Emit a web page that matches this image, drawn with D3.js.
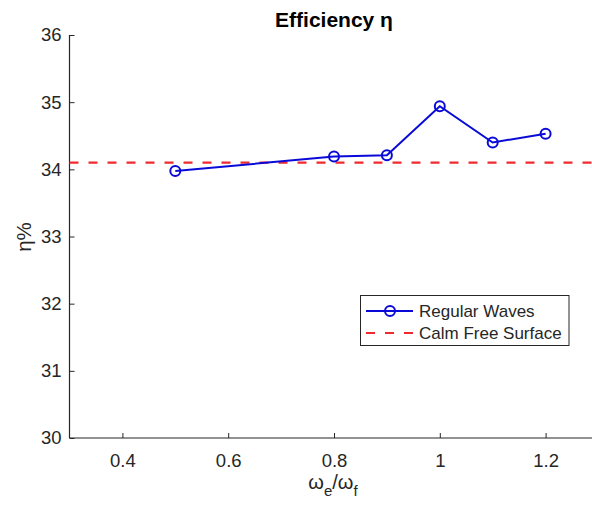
<!DOCTYPE html>
<html>
<head>
<meta charset="utf-8">
<script src="https://cdn.jsdelivr.net/npm/d3@7"></script>
<style>
  html, body { margin: 0; padding: 0; background: #fff; }
  svg { display: block; font-family: "Liberation Sans", Arial, Helvetica, sans-serif; }
</style>
</head>
<body>
<svg id="chart" width="592" height="509"></svg>
<script>
// Efficiency under regular waves vs. frequency ratio
const freqRatio = [0.5, 0.8, 0.9, 1.0, 1.1, 1.2];
const efficiency = [33.975, 34.19, 34.21, 34.94, 34.40, 34.53];
const calmEfficiency = 34.10;
const xTicks = [0.4, 0.6, 0.8, 1.0, 1.2];
const yTicks = [30, 31, 32, 33, 34, 35, 36];
const seriesNames = ["Regular Waves", "Calm Free Surface"];

const svg = d3.select("#chart");
const axisColor = "#262626";
const blue = "#0a0ad8";
const red = "#ee2a2e";

const plotLeft = 69.5, plotRight = 598.5, plotTop = 35, plotBottom = 438;
const x = d3.scaleLinear().domain([0.3, 1.3]).range([plotLeft, plotRight]);
const y = d3.scaleLinear().domain([30, 36]).range([plotBottom, plotTop]);

// Axes (ticks inside, no surrounding box)
const xAxis = d3.axisBottom(x).tickValues(xTicks).tickSize(-5).tickPadding(16)
  .tickFormat(d => String(+d.toFixed(1)));
const yAxis = d3.axisLeft(y).tickValues(yTicks).tickSize(-5).tickPadding(8)
  .tickFormat(d3.format("d"));

const gx = svg.append("g").attr("transform", `translate(0,${plotBottom})`).call(xAxis);
const gy = svg.append("g").attr("transform", `translate(${plotLeft},0)`).call(yAxis);
[gx, gy].forEach(g => {
  g.selectAll(".tick line").attr("stroke", axisColor).attr("stroke-width", 1);
  g.selectAll(".tick text").attr("fill", axisColor)
    .style("font-size", "18.5px").style("font-family", "'Liberation Sans', Arial, sans-serif");
});
gx.select(".domain").attr("d", `M${plotLeft},0H${plotRight}`)
  .attr("stroke", axisColor).attr("stroke-width", 1.2);
gy.select(".domain").attr("d", `M0,${plotBottom}V${plotTop}`)
  .attr("stroke", axisColor).attr("stroke-width", 1.2);

// Calm free-surface reference line
svg.append("line")
  .attr("x1", x(0.3)).attr("x2", x(1.3))
  .attr("y1", y(calmEfficiency)).attr("y2", y(calmEfficiency))
  .attr("stroke", red).attr("stroke-width", 2.2)
  .attr("stroke-dasharray", "9,10");

// Regular waves series
const pts = freqRatio.map((f, i) => [f, efficiency[i]]);
svg.append("path")
  .datum(pts)
  .attr("fill", "none").attr("stroke", blue).attr("stroke-width", 2)
  .attr("d", d3.line().x(d => x(d[0])).y(d => y(d[1])));
svg.selectAll("circle.pt").data(pts).enter().append("circle")
  .attr("class", "pt")
  .attr("cx", d => x(d[0])).attr("cy", d => y(d[1])).attr("r", 5)
  .attr("fill", "none").attr("stroke", blue).attr("stroke-width", 2);

// Title
svg.append("text")
  .attr("x", 334).attr("y", 27)
  .attr("text-anchor", "middle")
  .style("font-size", "21px").style("font-weight", "bold").attr("fill", "#000")
  .text("Efficiency η");

// Axis labels
svg.append("text")
  .attr("transform", "translate(31,237) rotate(-90)")
  .attr("text-anchor", "middle")
  .style("font-size", "20.5px").attr("fill", axisColor)
  .text("η%");

const xl = svg.append("text")
  .attr("x", 333).attr("y", 489)
  .attr("text-anchor", "middle")
  .style("font-size", "20px").attr("fill", axisColor);
xl.append("tspan").text("ω");
xl.append("tspan").attr("dy", 7).style("font-size", "15px").text("e");
xl.append("tspan").attr("dy", -7).text("/ω");
xl.append("tspan").attr("dy", 7).style("font-size", "15px").text("f");

// Legend
const lg = svg.append("g");
lg.append("rect")
  .attr("x", 360.5).attr("y", 295.5).attr("width", 208.5).attr("height", 50)
  .attr("fill", "#fff").attr("stroke", axisColor).attr("stroke-width", 1);
const rows = [311, 333];
lg.append("line").attr("x1", 366).attr("x2", 413).attr("y1", rows[0]).attr("y2", rows[0])
  .attr("stroke", blue).attr("stroke-width", 2);
lg.append("circle").attr("cx", 390).attr("cy", rows[0]).attr("r", 5)
  .attr("fill", "none").attr("stroke", blue).attr("stroke-width", 2);
lg.append("line").attr("x1", 366).attr("x2", 413).attr("y1", rows[1]).attr("y2", rows[1])
  .attr("stroke", red).attr("stroke-width", 2.2).attr("stroke-dasharray", "9,10");
seriesNames.forEach((name, i) => {
  lg.append("text").attr("x", 419).attr("y", rows[i] + 6)
    .style("font-size", "17px").attr("fill", axisColor).text(name);
});
</script>
</body>
</html>
